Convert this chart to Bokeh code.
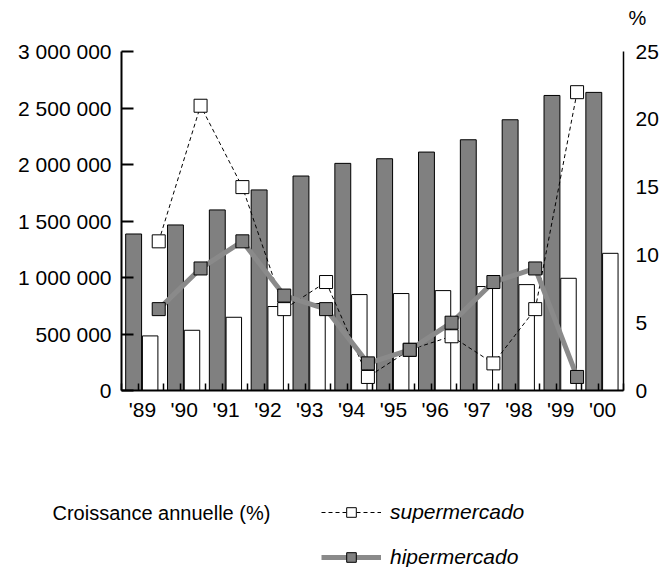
import numpy as np
from bokeh.plotting import figure
from bokeh.models import (Range1d, LinearAxis, FixedTicker, Label, Legend,
                          LegendItem, ColumnDataSource)
from bokeh.embed import file_html
from bokeh.resources import INLINE

# ---------------- data ----------------
years = ["'89", "'90", "'91", "'92", "'93", "'94", "'95", "'96", "'97", "'98", "'99", "'00"]
hiper_units = [1385000, 1465000, 1598000, 1775000, 1898000, 2010000,
               2051000, 2110000, 2219000, 2396000, 2611000, 2638000]
super_units = [483000, 533000, 648000, 743000, 770000, 849000,
               858000, 884000, 920000, 937000, 993000, 1214000]
super_growth = [11, 21, 15, 6, 8, 1, 3, 4, 2, 6, 22]
hiper_growth = [6, 9, 11, 7, 6, 2, 3, 5, 8, 9, 1]
left_ticks = [0, 500000, 1000000, 1500000, 2000000, 2500000, 3000000]
left_tick_labels = ["0", "500 000", "1 000 000", "1 500 000", "2 000 000", "2 500 000", "3 000 000"]
right_ticks = [0, 5, 10, 15, 20, 25]
legend_title = "Croissance annuelle (%)"
right_unit = "%"

FONT = "Liberation Sans"
AFS = "21px"
LFS = "20px"
IFS = "21px"
HIPER_FILL = "#808080"
HIPER_LINE = "#8a8a8a"

# ---------------- layout (pixels) ----------------
W, H = 661, 567
PL, PR, PT, PB = 121, 623, 51, 390      # plot area edges on the page
n = len(years)
YMAX, PMAX = 3000000, 25
xppu = (PR - PL) / n
yppu = (PB - PT) / YMAX
pppu = (PB - PT) / PMAX

centers = np.arange(n) + 0.5
growth_x = np.arange(len(super_growth)) + 0.89

bars = ColumnDataSource(dict(
    xd=centers - 0.21, xw=centers + 0.185,
    hiper=hiper_units, sup=super_units))
growth = ColumnDataSource(dict(x=growth_x, s=super_growth, h=hiper_growth))

x_range = Range1d(-PL / xppu, n + (W - PR) / xppu)
y_range = Range1d(-(H - PB) / yppu, YMAX + PT / yppu)

p = figure(width=W, height=H, x_range=x_range, y_range=y_range,
           output_backend="svg", toolbar_location=None,
           min_border=0, min_border_left=0, min_border_right=0,
           min_border_top=0, min_border_bottom=0)
p.xgrid.visible = False
p.ygrid.visible = False
p.outline_line_color = None
p.background_fill_color = "white"
p.border_fill_color = "white"

p.extra_y_ranges = {"pct": Range1d(-(H - PB) / pppu, PMAX + PT / pppu)}

# bars
p.vbar(x="xd", top="hiper", bottom=0, width=0.38, source=bars,
       fill_color=HIPER_FILL, line_color="black", line_width=1)
p.vbar(x="xw", top="sup", bottom=0, width=0.37, source=bars,
       fill_color="white", line_color="black", line_width=1)

# growth lines
sl = p.line("x", "s", source=growth, y_range_name="pct", line_color="black",
            line_width=1, line_dash="4 3")
hl = p.line("x", "h", source=growth, y_range_name="pct", line_color=HIPER_LINE,
            line_width=5)
sm = p.scatter("x", "s", source=growth, y_range_name="pct", marker="square", size=13,
               fill_color="white", line_color="black", line_width=1)
hm = p.scatter("x", "h", source=growth, y_range_name="pct", marker="square", size=13,
               fill_color=HIPER_FILL, line_color="black", line_width=1)

# x axis (bottom), fixed at y = 0
xa = p.xaxis[0]
xa.fixed_location = 0
xa.bounds = (0, n)
boundaries = list(np.arange(n + 1).astype(float))
inner = list(np.arange(n) + 0.41)
xa.ticker = FixedTicker(ticks=list(centers), minor_ticks=boundaries + inner)
xa.major_label_overrides = {float(c): y for c, y in zip(centers, years)}
xa.major_tick_line_color = None
xa.minor_tick_in = 7
xa.minor_tick_out = 0
xa.minor_tick_line_color = "black"
xa.minor_tick_line_width = 1.5
xa.axis_line_color = "black"
xa.axis_line_width = 2
xa.major_label_text_font = FONT
xa.major_label_text_font_size = AFS
xa.major_label_text_color = "black"
xa.major_label_standoff = 1

# left axis, fixed at x = 0
ya = p.yaxis[0]
ya.fixed_location = 0
ya.bounds = (0, YMAX)
ya.ticker = FixedTicker(ticks=left_ticks)
ya.major_label_overrides = {t: l for t, l in zip(left_ticks, left_tick_labels)}
ya.major_tick_in = 12
ya.major_tick_out = 0
ya.major_tick_line_width = 2
ya.minor_tick_line_color = None
ya.axis_line_width = 2
ya.major_label_text_font = FONT
ya.major_label_text_font_size = AFS
ya.major_label_text_color = "black"
ya.major_label_standoff = 10

# right axis, fixed at x = n
ra = LinearAxis(y_range_name="pct", ticker=FixedTicker(ticks=right_ticks),
                fixed_location=n, bounds=(0, PMAX))
ra.major_tick_line_color = None
ra.minor_tick_line_color = None
ra.axis_line_width = 1.5
ra.major_label_text_font = FONT
ra.major_label_text_font_size = AFS
ra.major_label_text_color = "black"
ra.major_label_standoff = 6
p.add_layout(ra, "right")

# labels (screen px from the bottom-left of the canvas)
p.add_layout(Label(x=637, y=H - 17.5, x_units="screen", y_units="screen", text=right_unit,
                   text_font=FONT, text_font_size=LFS, text_align="center",
                   text_baseline="middle", text_color="black"))
p.add_layout(Label(x=52, y=H - 512, x_units="screen", y_units="screen", text=legend_title,
                   text_font=FONT, text_font_size=LFS, text_align="left",
                   text_baseline="middle", text_color="black"))

legend = Legend(items=[LegendItem(label="supermercado", renderers=[sl, sm]),
                       LegendItem(label="hipermercado", renderers=[hl, hm])],
                location=(321, -2), orientation="vertical",
                padding=0, margin=0, spacing=21,
                glyph_width=60, glyph_height=24, label_height=24, label_standoff=9,
                label_text_font=FONT, label_text_font_size=IFS,
                label_text_font_style="italic", label_text_color="black",
                border_line_color=None, background_fill_alpha=0)
p.add_layout(legend)

open("out.html", "w").write(file_html(p, INLINE))
